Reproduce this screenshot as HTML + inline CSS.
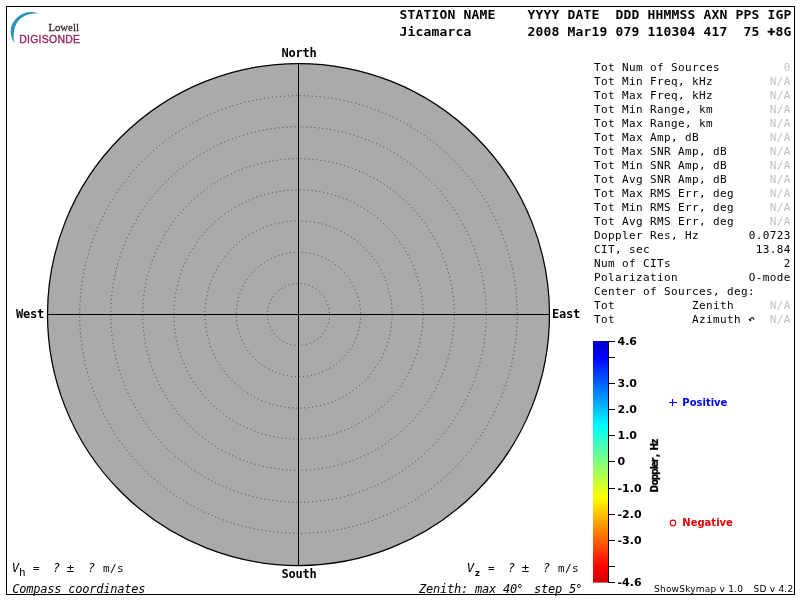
<!DOCTYPE html>
<html lang="en">
<head>
<meta charset="utf-8">
<title>ShowSkymap - Jicamarca</title>
<style>
html,body{margin:0;padding:0;background:#fff;}
body{width:800px;height:600px;overflow:hidden;position:relative;}
svg{position:absolute;left:0;top:0;display:block;}
text{white-space:pre;}
.hd{font-family:"DejaVu Sans Mono","Liberation Mono",monospace;font-weight:bold;font-size:13px;letter-spacing:0.1733px;fill:#000;}
.cp{font-family:"DejaVu Sans Mono","Liberation Mono",monospace;font-weight:bold;font-size:12px;letter-spacing:-0.2246px;fill:#000;}
.m{font-family:"DejaVu Sans Mono","Liberation Mono",monospace;font-size:11px;letter-spacing:0.3774px;fill:#000;}
.g{fill:#c0c0c0;}
.it{font-style:italic;}
.big{font-size:12.3px;}
.i12{font-style:italic;font-size:12px;letter-spacing:-0.2246px;}
.sb{font-family:"DejaVu Sans","Liberation Sans",sans-serif;font-weight:bold;font-size:10px;}
.ss{font-family:"DejaVu Sans","Liberation Sans",sans-serif;font-size:10px;}
.dc{font-family:"DejaVu Sans Condensed","DejaVu Sans","Liberation Sans",sans-serif;letter-spacing:-0.7px;}
.tk{font-family:"DejaVu Sans","Liberation Sans",sans-serif;font-weight:bold;font-size:11px;fill:#000;}
</style>
</head>
<body>
<svg width="800" height="600" viewBox="0 0 800 600">
<defs>
<linearGradient id="cb" x1="0" y1="0" x2="0" y2="1">
<stop offset="0" stop-color="#0000c8"/>
<stop offset="0.0652" stop-color="#0000ff"/>
<stop offset="0.3533" stop-color="#00ffff"/>
<stop offset="0.5" stop-color="#80ff80"/>
<stop offset="0.6467" stop-color="#ffff00"/>
<stop offset="0.9348" stop-color="#ff0000"/>
<stop offset="1" stop-color="#c80000"/>
</linearGradient>
</defs>
<rect x="0" y="0" width="800" height="600" fill="#ffffff"/>
<rect x="6.5" y="6.5" width="788" height="588" fill="none" stroke="#000" stroke-width="1"/>
<g id="logo">
<path d="M39.3,13.7 C36,12.2 33,11.8 30,11.9 C26,12 22,13.8 19.3,15.7 C16,18.2 13,22 11.7,25.3 C10.6,28.5 10.4,32 11.3,36 C11.8,38.5 13,41 14.7,42.9 C13.8,40 13.4,37 13.7,34.7 C13.9,32 14.2,30 14.7,28 C15.5,25.5 16.5,23.3 18,21.3 C19.5,19.4 21,18 23.3,16.7 C25.5,15.4 27.5,14.5 30,14 C33,13.4 36,13.4 39.3,13.7 Z" fill="#2a90bc"/>
<text transform="translate(48.4,30.8) scale(0.945,1)" style="font-family:'Liberation Serif',serif;font-size:11.4px;fill:#35202c;stroke:#35202c;stroke-width:0.25px;">Lowell</text>
<text transform="translate(19.2,43.3) scale(0.925,1)" style="font-family:'Liberation Sans',sans-serif;font-size:11.3px;letter-spacing:0.3px;fill:#96205c;stroke:#96205c;stroke-width:0.35px;">DIGISONDE</text>
</g>
<circle cx="298.5" cy="314.5" r="251" fill="#aaaaaa" stroke="#000" stroke-width="1.25"/>
<circle cx="298.5" cy="314.5" r="31.00" fill="none" stroke="#404040" stroke-width="1" stroke-dasharray="1 3"/>
<circle cx="298.5" cy="314.5" r="62.20" fill="none" stroke="#404040" stroke-width="1" stroke-dasharray="1 3"/>
<circle cx="298.5" cy="314.5" r="93.60" fill="none" stroke="#404040" stroke-width="1" stroke-dasharray="1 3"/>
<circle cx="298.5" cy="314.5" r="124.60" fill="none" stroke="#404040" stroke-width="1" stroke-dasharray="1 3"/>
<circle cx="298.5" cy="314.5" r="155.80" fill="none" stroke="#404040" stroke-width="1" stroke-dasharray="1 3"/>
<circle cx="298.5" cy="314.5" r="187.70" fill="none" stroke="#404040" stroke-width="1" stroke-dasharray="1 3"/>
<circle cx="298.5" cy="314.5" r="218.80" fill="none" stroke="#404040" stroke-width="1" stroke-dasharray="1 3"/>
<line x1="298.5" y1="63.5" x2="298.5" y2="565.5" stroke="#000" stroke-width="1"/>
<line x1="47.5" y1="314.5" x2="549.5" y2="314.5" stroke="#000" stroke-width="1"/>
<text class="cp" x="281.5" y="57">North</text>
<text class="cp" x="281.4" y="578">South</text>
<text class="cp" x="16" y="318">West</text>
<text class="cp" x="552" y="318">East</text>
<text class="hd" x="399.5" y="19">STATION NAME    YYYY DATE  DDD HHMMSS AXN PPS IGP</text>
<text class="hd" x="399.5" y="35.6">Jicamarca       2008 Mar19 079 110304 417  75 <tspan style="stroke:#000;stroke-width:0.5px">+</tspan>8G</text>
<text class="m" x="594" y="71">Tot Num of Sources</text><text class="m g" x="783.7" y="71">0</text>
<text class="m" x="594" y="85">Tot Min Freq, kHz</text><text class="m g" x="769.7" y="85">N/A</text>
<text class="m" x="594" y="99">Tot Max Freq, kHz</text><text class="m g" x="769.7" y="99">N/A</text>
<text class="m" x="594" y="113">Tot Min Range, km</text><text class="m g" x="769.7" y="113">N/A</text>
<text class="m" x="594" y="127">Tot Max Range, km</text><text class="m g" x="769.7" y="127">N/A</text>
<text class="m" x="594" y="141">Tot Max Amp, dB</text><text class="m g" x="769.7" y="141">N/A</text>
<text class="m" x="594" y="155">Tot Max SNR Amp, dB</text><text class="m g" x="769.7" y="155">N/A</text>
<text class="m" x="594" y="169">Tot Min SNR Amp, dB</text><text class="m g" x="769.7" y="169">N/A</text>
<text class="m" x="594" y="183">Tot Avg SNR Amp, dB</text><text class="m g" x="769.7" y="183">N/A</text>
<text class="m" x="594" y="197">Tot Max RMS Err, deg</text><text class="m g" x="769.7" y="197">N/A</text>
<text class="m" x="594" y="211">Tot Min RMS Err, deg</text><text class="m g" x="769.7" y="211">N/A</text>
<text class="m" x="594" y="225">Tot Avg RMS Err, deg</text><text class="m g" x="769.7" y="225">N/A</text>
<text class="m" x="594" y="239">Doppler Res, Hz</text><text class="m" x="748.7" y="239">0.0723</text>
<text class="m" x="594" y="253">CIT, sec</text><text class="m" x="755.7" y="253">13.84</text>
<text class="m" x="594" y="267">Num of CITs</text><text class="m" x="783.7" y="267">2</text>
<text class="m" x="594" y="281">Polarization</text><text class="m" x="748.7" y="281">O-mode</text>
<text class="m" x="594" y="295">Center of Sources, deg:</text>
<text class="m" x="594" y="309">Tot           Zenith</text><text class="m g" x="769.7" y="309">N/A</text>
<text class="m" x="594" y="323">Tot           Azimuth</text><text class="m g" x="769.7" y="323">N/A</text>
<path d="M753.8,320 L753.7,318.6 C753.2,317.4 751.8,317.2 750.6,318.8" fill="none" stroke="#222" stroke-width="1.1"/><path d="M748.4,319.5 L750.4,318.6 L751.5,320.4 L750,321.3 Z" fill="#111"/>
<rect x="593" y="341" width="15" height="241.6" fill="url(#cb)"/>
<line x1="608.5" y1="341" x2="608.5" y2="583" stroke="#000" stroke-width="1"/>
<line x1="608" y1="341.5" x2="615" y2="341.5" stroke="#000" stroke-width="1"/><text class="tk" x="617.5" y="345.0">4.6</text>
<line x1="608" y1="357.5" x2="615" y2="357.5" stroke="#000" stroke-width="1"/>
<line x1="608" y1="383.5" x2="615" y2="383.5" stroke="#000" stroke-width="1"/><text class="tk" x="617.5" y="387.0">3.0</text>
<line x1="608" y1="409.5" x2="615" y2="409.5" stroke="#000" stroke-width="1"/><text class="tk" x="617.5" y="413.0">2.0</text>
<line x1="608" y1="435.5" x2="615" y2="435.5" stroke="#000" stroke-width="1"/><text class="tk" x="617.5" y="439.0">1.0</text>
<line x1="608" y1="461.5" x2="615" y2="461.5" stroke="#000" stroke-width="1"/><text class="tk" x="617.5" y="465.0">0</text>
<line x1="608" y1="488.5" x2="615" y2="488.5" stroke="#000" stroke-width="1"/><text class="tk" x="617.5" y="492.0">-1.0</text>
<line x1="608" y1="514.5" x2="615" y2="514.5" stroke="#000" stroke-width="1"/><text class="tk" x="617.5" y="518.0">-2.0</text>
<line x1="608" y1="540.5" x2="615" y2="540.5" stroke="#000" stroke-width="1"/><text class="tk" x="617.5" y="544.0">-3.0</text>
<line x1="608" y1="566.5" x2="615" y2="566.5" stroke="#000" stroke-width="1"/>
<line x1="608" y1="582.5" x2="615" y2="582.5" stroke="#000" stroke-width="1"/><text class="tk" x="617.5" y="586.0">-4.6</text>
<text class="sb dc" transform="translate(657.5,492.4) rotate(-90)" x="0 7.1 12.1 17.6 23.1 25.1 30.1 35.2 40 42 48.5" y="0" fill="#000" stroke="#000" stroke-width="0.25">Doppler, Hz</text>
<path d="M669,402.5 H677 M672.5,399 V406" stroke="#0000ee" stroke-width="1.1" fill="none"/><text class="sb" x="682.3" y="405.7" fill="#0000ee">Positive</text>
<circle cx="673" cy="522.9" r="2.8" stroke="#e60000" stroke-width="1.1" fill="none"/><text class="sb" x="682.3" y="525.7" fill="#e60000">Negative</text>
<text class="m" y="572"><tspan class="it big" x="11.7">V</tspan><tspan x="19" dy="3.5">h</tspan><tspan x="33" dy="-3.5">=</tspan><tspan class="it big" x="52.7">?</tspan><tspan class="big" x="66.75">±</tspan><tspan class="it big" x="87.7">?</tspan><tspan x="103">m/s</tspan></text>
<text class="m i12" x="12.3" y="592.7">Compass coordinates</text>
<text class="m" y="572"><tspan class="it big" x="466.7">V</tspan><tspan x="474.6" dy="3.5" style="font-weight:bold;font-size:9.5px">z</tspan><tspan x="488" dy="-3.5">=</tspan><tspan class="it big" x="507.7">?</tspan><tspan class="big" x="521.75">±</tspan><tspan class="it big" x="542.7">?</tspan><tspan x="558">m/s</tspan></text>
<text class="m i12" x="419" y="592.7">Zenith: max 40</text><text class="m i12" x="516.3" y="592.7">°</text><text class="m i12" x="534" y="592.7">step 5</text><text class="m i12" x="575.3" y="592.7">°</text>
<text class="ss" x="654" y="592.3" style="font-size:9px;letter-spacing:0.23px" fill="#000">ShowSkymap v 1.0</text><text class="ss" x="753.5" y="592.3" style="font-size:9px;letter-spacing:0.24px" fill="#000">SD v 4.2</text>
</svg>
</body>
</html>
